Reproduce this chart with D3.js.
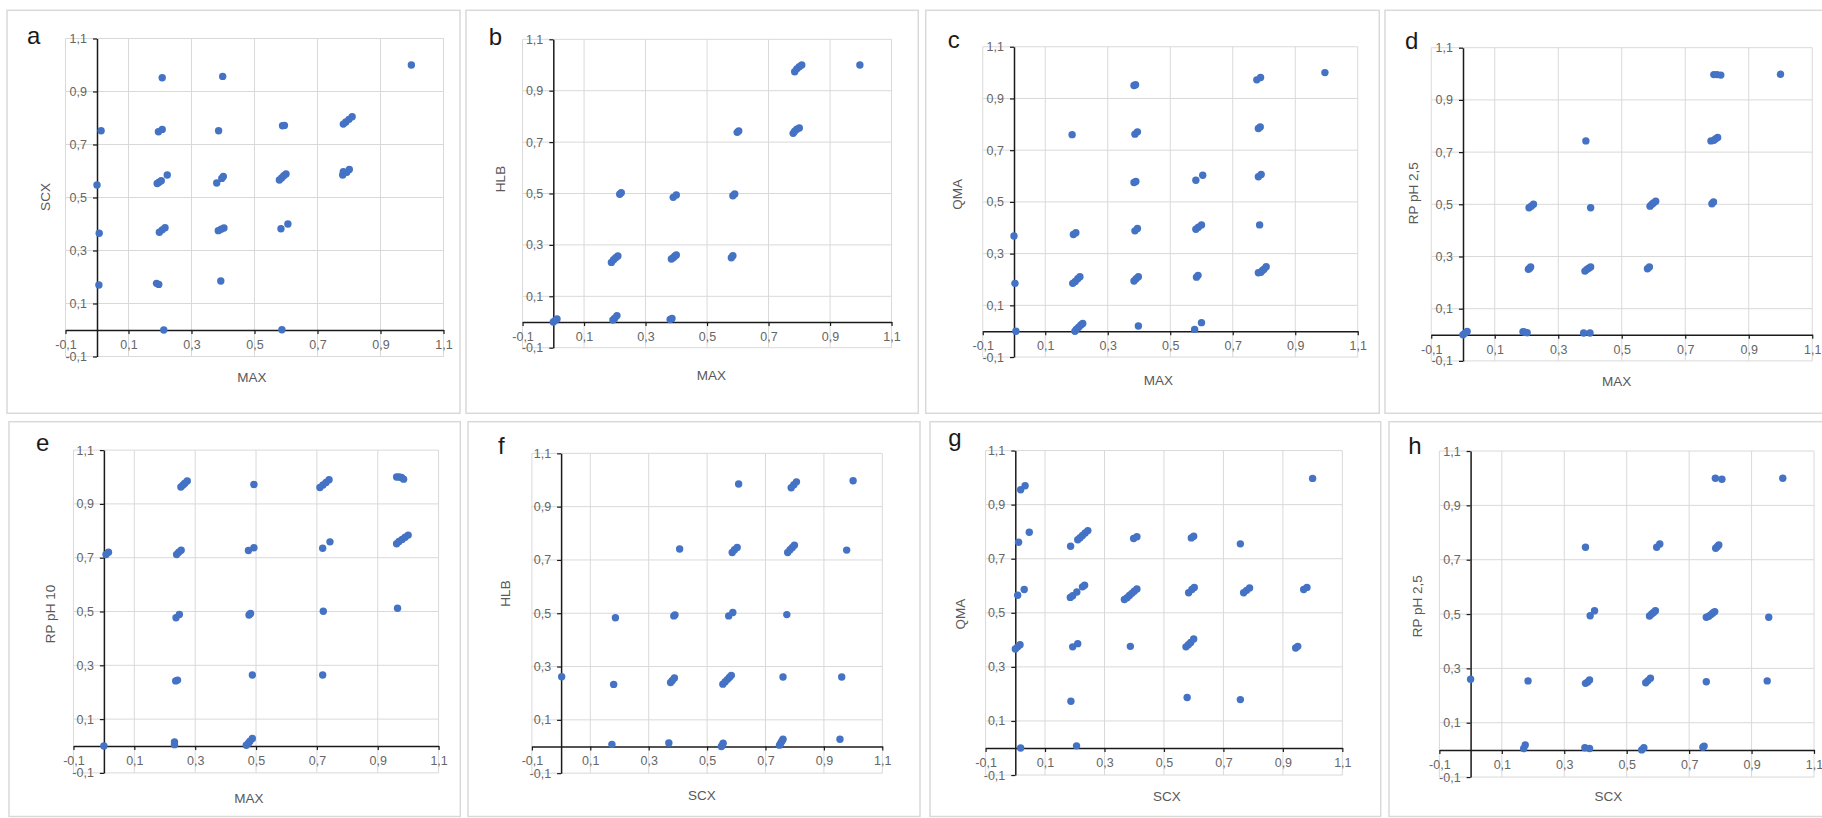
<!DOCTYPE html>
<html>
<head>
<meta charset="utf-8">
<script src="https://cdn.jsdelivr.net/npm/d3@7"></script>
<style>
  html, body { margin: 0; padding: 0; background: #ffffff; }
  svg { display: block; }
</style>
</head>
<body>
<svg id="chart" width="1822" height="818"></svg>
<script>
// ---------------- DATA ----------------
const panelLetters = ["a", "b", "c", "d", "e", "f", "g", "h"];
const xTitles = ["MAX", "MAX", "MAX", "MAX", "MAX", "SCX", "SCX", "SCX"];
const yTitles = ["SCX", "HLB", "QMA", "RP pH 2,5", "RP pH 10", "HLB", "QMA", "RP pH 2,5"];
const tickValues = [-0.1, 0.1, 0.3, 0.5, 0.7, 0.9, 1.1];
const tickLabels = ["-0,1", "0,1", "0,3", "0,5", "0,7", "0,9", "1,1"];

// [x, y] pairs
const dataA = [
  [0.998,1.0],[0.207,0.952],[0.399,0.957],
  [0.013,0.752],[0.195,0.748],[0.207,0.757],[0.386,0.752],[0.589,0.771],[0.595,0.772],
  [0.782,0.777],[0.79,0.785],[0.80,0.795],[0.81,0.805],
  [0,0.547],[0.191,0.553],[0.197,0.558],[0.204,0.563],[0.223,0.585],[0.38,0.555],[0.396,0.572],[0.401,0.579],
  [0.579,0.566],[0.586,0.574],[0.593,0.582],[0.6,0.589],
  [0.78,0.585],[0.782,0.597],[0.793,0.595],[0.801,0.606],
  [0.007,0.365],[0.198,0.369],[0.207,0.378],[0.216,0.386],[0.385,0.375],[0.394,0.38],[0.403,0.385],[0.584,0.382],[0.606,0.4],
  [0.006,0.17],[0.189,0.176],[0.196,0.172],[0.393,0.185],
  [0.212,0.0],[0.587,0.001]
];
const dataB = [
  [0,0],[0.006,0.006],[0.012,0.012],
  [0.194,0.008],[0.2,0.015],[0.207,0.025],
  [0.38,0.01],[0.386,0.014],
  [0.189,0.232],[0.196,0.242],[0.203,0.25],[0.21,0.257],
  [0.384,0.245],[0.39,0.25],[0.395,0.256],[0.4,0.261],
  [0.579,0.25],[0.584,0.258],
  [0.216,0.497],[0.221,0.503],
  [0.39,0.485],[0.4,0.494],
  [0.584,0.491],[0.59,0.498],
  [0.598,0.738],[0.603,0.743],
  [0.78,0.734],[0.785,0.742],[0.792,0.75],[0.80,0.755],
  [0.785,0.974],[0.792,0.985],[0.80,0.993],[0.808,1.0],
  [0.997,1.0]
];
const dataC = [
  [0.384,0.95],[0.389,0.953],[0.186,0.76],[0.387,0.762],[0.395,0.771],
  [0.384,0.575],[0.39,0.579],[0,0.368],[0.19,0.374],[0.198,0.381],
  [0.387,0.388],[0.395,0.397],[0.003,0.185],
  [0.188,0.185],[0.196,0.192],[0.204,0.203],[0.211,0.211],
  [0.384,0.194],[0.391,0.203],[0.398,0.211],
  [0.006,0],[0.195,0],[0.2,0.008],[0.207,0.015],[0.214,0.024],[0.22,0.03],
  [0.398,0.02],
  [0.582,0.584],[0.604,0.603],
  [0.582,0.394],[0.59,0.402],[0.6,0.411],
  [0.584,0.209],[0.589,0.216],
  [0.578,0.007],[0.6,0.033],
  [0.777,0.972],[0.789,0.981],
  [0.782,0.784],[0.788,0.79],
  [0.782,0.597],[0.791,0.606],
  [0.786,0.411],
  [0.782,0.226],[0.79,0.228],[0.795,0.235],[0.80,0.24],[0.807,0.249],
  [0.995,1.0]
];
const dataD = [
  [0,0],[0.007,0.007],[0.013,0.013],
  [0.189,0.012],[0.195,0.01],[0.202,0.008],
  [0.38,0.007],[0.40,0.007],
  [0.206,0.251],[0.21,0.255],[0.213,0.26],
  [0.384,0.244],[0.39,0.25],[0.396,0.255],[0.402,0.26],
  [0.581,0.253],[0.587,0.26],
  [0.208,0.487],[0.215,0.493],[0.222,0.5],
  [0.402,0.487],
  [0.589,0.493],[0.595,0.5],[0.6,0.505],[0.607,0.512],
  [0.784,0.502],[0.789,0.509],
  [0.387,0.743],
  [0.781,0.743],[0.79,0.745],[0.795,0.75],[0.802,0.756],
  [0.79,0.997],[0.80,0.997],[0.812,0.995],
  [1.0,0.998]
];
const dataE = [
  [0.007,0.712],[0.015,0.72],[0,0],
  [0.253,0.963],[0.26,0.97],[0.266,0.977],[0.274,0.985],
  [0.493,0.972],
  [0.71,0.961],[0.72,0.97],[0.73,0.98],[0.74,0.99],
  [0.239,0.712],[0.246,0.72],[0.254,0.728],
  [0.475,0.727],[0.493,0.737],
  [0.719,0.735],[0.743,0.759],
  [0.237,0.477],[0.248,0.489],
  [0.477,0.487],[0.482,0.493],
  [0.721,0.501],
  [0.236,0.242],[0.242,0.245],
  [0.488,0.264],[0.719,0.264],
  [0.232,0.015],[0.232,0.005],
  [0.468,0.003],[0.475,0.01],[0.48,0.018],[0.488,0.028],
  [0.962,1.0],[0.97,1.0],[0.978,0.998],[0.985,0.992],
  [0.962,0.752],[0.97,0.76],[0.98,0.768],[0.99,0.776],[1.0,0.784],
  [0.965,0.512]
];
const dataF = [
  [0.002,0.262],[0.186,0.483],[0.18,0.233],[0.406,0.741],
  [0.386,0.49],[0.39,0.494],
  [0.375,0.24],[0.381,0.248],[0.388,0.257],
  [0.608,0.985],
  [0.586,0.728],[0.594,0.738],[0.603,0.747],
  [0.574,0.49],[0.588,0.503],
  [0.554,0.234],[0.562,0.243],[0.57,0.252],[0.577,0.26],[0.583,0.267],
  [0.788,0.971],[0.797,0.982],[0.806,0.993],
  [0.776,0.728],[0.784,0.738],[0.792,0.747],[0.799,0.755],
  [0.773,0.495],[0.76,0.261],[0.978,0.737],[1.0,0.997],[0.961,0.261],
  [0.174,0.008],[0.369,0.013],
  [0.549,0.0],[0.552,0.005],[0.555,0.012],
  [0.748,0.005],[0.752,0.012],[0.756,0.02],[0.76,0.027],
  [0.955,0.027]
];
const dataG = [
  [0.018,0.955],[0.033,0.97],
  [0.011,0.761],[0.047,0.798],
  [0.008,0.565],[0.03,0.586],
  [0,0.366],[0.008,0.374],[0.016,0.382],
  [0.186,0.746],
  [0.21,0.77],[0.218,0.778],[0.226,0.786],[0.235,0.795],[0.244,0.804],
  [0.185,0.557],[0.193,0.563],[0.207,0.577],[0.226,0.596],[0.233,0.602],
  [0.193,0.374],[0.21,0.386],
  [0.187,0.173],
  [0.398,0.775],[0.409,0.781],
  [0.367,0.549],[0.376,0.556],[0.384,0.564],[0.392,0.572],[0.4,0.58],[0.409,0.588],
  [0.387,0.376],
  [0.592,0.777],[0.6,0.783],
  [0.757,0.755],
  [0.583,0.574],[0.594,0.586],[0.602,0.594],
  [0.768,0.574],[0.778,0.583],[0.788,0.592],
  [0.97,0.586],[0.981,0.594],
  [1.0,0.997],
  [0.574,0.374],[0.582,0.382],[0.59,0.39],[0.6,0.403],
  [0.943,0.37],[0.95,0.376],
  [0.578,0.187],[0.757,0.179],
  [0.018,0],[0.206,0.008]
];
const dataH = [
  [0,0.26],[0.184,0.254],[0.368,0.746],
  [0.383,0.494],[0.397,0.512],
  [0.368,0.245],[0.375,0.25],[0.381,0.257],
  [0.366,0.008],[0.381,0.005],
  [0.548,0],[0.555,0.008],
  [0.596,0.746],[0.606,0.758],
  [0.573,0.493],[0.58,0.5],[0.586,0.506],[0.592,0.512],
  [0.561,0.247],[0.568,0.255],[0.576,0.264],
  [0.744,0.01],[0.748,0.014],
  [0.755,0.251],
  [0.755,0.488],[0.763,0.492],[0.77,0.498],[0.776,0.504],[0.782,0.509],
  [0.785,0.742],[0.79,0.748],[0.795,0.754],
  [0.784,1.0],[0.805,0.996],
  [0.955,0.488],[0.95,0.254],[1.0,1.0],
  [0.17,0.005],[0.175,0.018]
];
const panelData = [dataA, dataB, dataC, dataD, dataE, dataF, dataG, dataH];

// ---------------- LAYOUT (pixels) ----------------
// box: panel frame [x0, y0, x1, y1]; plot: [left, top, right, bottom]
const layout = [
  { box: [7, 10.3, 460, 413.3],     plot: [65.5, 38.5, 443.5, 356.5],      letter: [27, 44],     yT: [45, 197],      xT: [252, 377] },
  { box: [466, 10.3, 918.3, 413.3], plot: [522.55, 39.3, 891.55, 347.7],   letter: [488.7, 45],  yT: [500.5, 179],   xT: [711.3, 375.7] },
  { box: [925.7, 10.3, 1379.3, 413.3], plot: [982.75, 46.75, 1357.75, 357.06], letter: [947.7, 48], yT: [957.5, 194.3], xT: [1158.3, 380] },
  { box: [1385, 10.3, 1840, 413.3], plot: [1431.25, 47.7, 1812.25, 360.9], letter: [1405, 49],   yT: [1413.3, 193.3], xT: [1616.7, 381.7] },
  { box: [9, 421.7, 460.3, 816.5],  plot: [73.47, 450.1, 438.6, 772.9],    letter: [36, 450.7],  yT: [50.5, 614],    xT: [249, 798] },
  { box: [468, 421.7, 920, 816.5],  plot: [531.9, 453.35, 882.3, 773.15],  letter: [498, 454],   yT: [505.5, 593.5], xT: [702, 795] },
  { box: [930, 421.7, 1380.7, 816.5], plot: [985.57, 450.56, 1342.33, 775.04], letter: [948.3, 445.7], yT: [960, 614.2], xT: [1167, 796.7] },
  { box: [1389, 421.7, 1840, 816.5], plot: [1439.38, 451.03, 1814.02, 777.07], letter: [1408.3, 454], yT: [1417.5, 606.3], xT: [1608.3, 796] }
];

const FONT = "'Liberation Sans', Arial, sans-serif";
const svg = d3.select("#chart");
svg.append("rect").attr("width", 1822).attr("height", 818).attr("fill", "#fff");

panelData.forEach((pts, i) => {
  const L = layout[i];
  const g = svg.append("g");

  // frame
  g.append("rect")
    .attr("x", L.box[0]).attr("y", L.box[1])
    .attr("width", L.box[2] - L.box[0]).attr("height", L.box[3] - L.box[1])
    .attr("fill", "#fff").attr("stroke", "#d9d9d9").attr("stroke-width", 1.5);

  const x = d3.scaleLinear().domain([-0.1, 1.1]).range([L.plot[0], L.plot[2]]);
  const y = d3.scaleLinear().domain([-0.1, 1.1]).range([L.plot[3], L.plot[1]]);

  // gridlines
  g.append("g").selectAll("line.v").data(tickValues).join("line")
    .attr("x1", d => x(d)).attr("x2", d => x(d))
    .attr("y1", y(-0.1)).attr("y2", y(1.1))
    .attr("stroke", "#d9d9d9").attr("stroke-width", 1);
  g.append("g").selectAll("line.h").data(tickValues).join("line")
    .attr("y1", d => y(d)).attr("y2", d => y(d))
    .attr("x1", x(-0.1)).attr("x2", x(1.1))
    .attr("stroke", "#d9d9d9").attr("stroke-width", 1);

  const fmt = d => tickLabels[tickValues.indexOf(d)];

  // axes crossing at 0
  const xAxis = d3.axisBottom(x).tickValues(tickValues).tickFormat(fmt).tickSize(4).tickSizeOuter(0).tickPadding(6);
  const yAxis = d3.axisLeft(y).tickValues(tickValues).tickFormat(fmt).tickSize(4).tickSizeOuter(0).tickPadding(6);

  const gx = g.append("g").attr("transform", `translate(0,${y(0)})`).call(xAxis);
  const gy = g.append("g").attr("transform", `translate(${x(0)},0)`).call(yAxis);
  [gx, gy].forEach(a => {
    a.select(".domain").attr("stroke", "#1a1a1a").attr("stroke-width", 1.5);
    a.selectAll(".tick line").attr("stroke", "#1a1a1a").attr("stroke-width", 1.2);
    a.selectAll(".tick text").attr("fill", "#666").style("font-family", FONT).style("font-size", "12.5px");
  });

  // points
  g.append("g").selectAll("circle").data(pts).join("circle")
    .attr("cx", d => x(d[0])).attr("cy", d => y(d[1]))
    .attr("r", 3.7).attr("fill", "#4472C4");

  // axis titles
  g.append("text")
    .attr("transform", `translate(${L.yT[0]},${L.yT[1]}) rotate(-90)`)
    .attr("text-anchor", "middle").attr("dominant-baseline", "central")
    .style("font-family", FONT).style("font-size", "13.5px").attr("fill", "#595959")
    .text(yTitles[i]);
  g.append("text")
    .attr("x", L.xT[0]).attr("y", L.xT[1])
    .attr("text-anchor", "middle").attr("dominant-baseline", "central")
    .style("font-family", FONT).style("font-size", "13.5px").attr("fill", "#595959")
    .text(xTitles[i]);

  // panel letter
  g.append("text")
    .attr("x", L.letter[0]).attr("y", L.letter[1])
    .style("font-family", FONT).style("font-size", "24px").attr("fill", "#1a1a1a")
    .text(panelLetters[i]);
});
</script>
</body>
</html>
